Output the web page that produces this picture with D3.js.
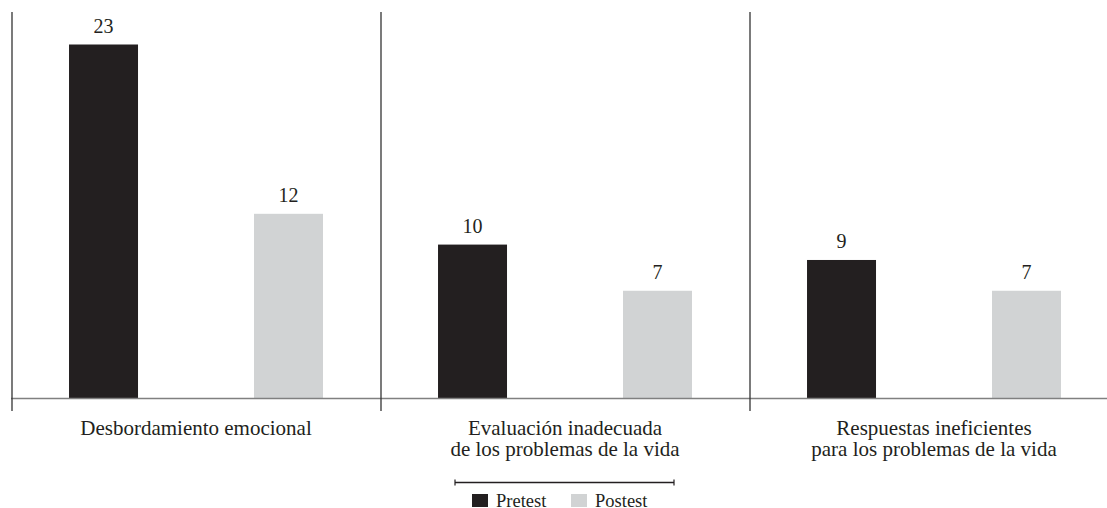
<!DOCTYPE html>
<html><head><meta charset="utf-8">
<script src="https://cdn.jsdelivr.net/npm/d3@7"></script>
<style>html,body{margin:0;padding:0;background:#fff;}svg{display:block;}</style>
</head><body>
<svg id="chart" width="1107" height="508"></svg>
<script>
const categories = [
  ["Desbordamiento emocional"],
  ["Evaluación inadecuada", "de los problemas de la vida"],
  ["Respuestas ineficientes", "para los problemas de la vida"]
];
const seriesNames = ["Pretest", "Postest"];
const pretest = [23, 10, 9];
const postest = [12, 7, 7];
const colors = ["#231f20", "#d1d3d4"];

const svg = d3.select("#chart");
const font = "'Liberation Serif','Times New Roman',serif";
const base = 398.5;

const keys = categories.map((c, i) => "g" + i);
const x0 = d3.scaleBand().domain(keys).range([11.5, 1118.5]).padding(0);
const x1 = d3.scaleBand().domain(seriesNames).range([0, x0.bandwidth()])
  .paddingInner(0.627).paddingOuter(0.311);
const y = d3.scaleLinear().domain([0, 23]).range([base, 44.5]);

const data = keys.map((k, i) => ({key: k, vals: [pretest[i], postest[i]]}));

// bars
const g = svg.selectAll("g.grp").data(data).join("g")
  .attr("transform", d => `translate(${x0(d.key)},0)`);
g.selectAll("rect").data(d => d.vals.map((v, j) => ({s: seriesNames[j], v, j})))
  .join("rect")
  .attr("x", d => x1(d.s)).attr("width", x1.bandwidth())
  .attr("y", d => y(d.v)).attr("height", d => base - y(d.v))
  .attr("fill", d => colors[d.j]);
g.selectAll("text.val").data(d => d.vals.map((v, j) => ({s: seriesNames[j], v})))
  .join("text").attr("class", "val")
  .attr("x", d => x1(d.s) + x1.bandwidth() / 2)
  .attr("y", d => y(d.v) - 12)
  .attr("text-anchor", "middle")
  .attr("font-family", font).attr("font-size", 20).attr("fill", "#231f20")
  .text(d => d.v);

// baseline
svg.append("line").attr("x1", 11).attr("x2", 1107).attr("y1", base).attr("y2", base)
  .attr("stroke", "#808080").attr("stroke-width", 1.6);

// vertical separators
svg.selectAll("line.sep").data(keys).join("line").attr("class", "sep")
  .attr("x1", d => x0(d) + 0.5).attr("x2", d => x0(d) + 0.5)
  .attr("y1", 12).attr("y2", 411)
  .attr("stroke", "#333").attr("stroke-width", 1.3);

// category labels
const lab = svg.selectAll("text.cat").data(categories).join("text").attr("class", "cat")
  .attr("text-anchor", "middle")
  .attr("font-family", font).attr("font-size", 21).attr("fill", "#231f20");
lab.each(function(d, i) {
  const cx = x0(keys[i]) + x0.bandwidth() / 2;
  d3.select(this).selectAll("tspan").data(d).join("tspan")
    .attr("x", cx).attr("y", (t, k) => 435 + k * 21).text(t => t);
});

// legend
const lg = svg.append("g");
lg.append("line").attr("x1", 455).attr("x2", 674).attr("y1", 482.5).attr("y2", 482.5)
  .attr("stroke", "#231f20").attr("stroke-width", 1.3);
[455, 674].forEach(xx => lg.append("line").attr("x1", xx).attr("x2", xx)
  .attr("y1", 479.5).attr("y2", 485.5).attr("stroke", "#231f20").attr("stroke-width", 1.2));
const legX = [472, 571];
seriesNames.forEach((s, i) => {
  lg.append("rect").attr("x", legX[i]).attr("y", 494).attr("width", 16).attr("height", 13)
    .attr("fill", colors[i]);
  lg.append("text").attr("x", legX[i] + 24).attr("y", 506.5)
    .attr("font-family", font).attr("font-size", 18.5).attr("fill", "#231f20").text(s);
});
</script>
</body></html>
